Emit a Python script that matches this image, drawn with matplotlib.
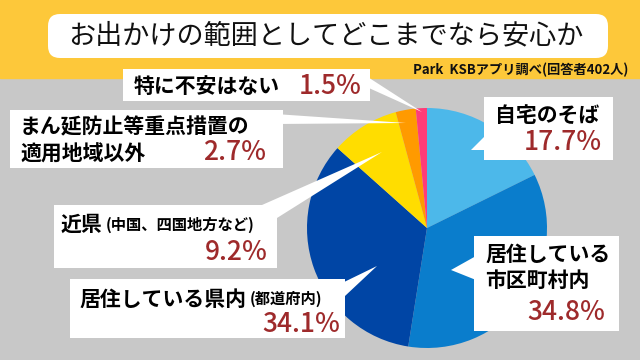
import matplotlib
matplotlib.use('Agg')
import matplotlib.pyplot as plt
from matplotlib.patches import Rectangle, Polygon, FancyBboxPatch

plt.rcParams['font.family'] = ['Noto Sans CJK JP', 'DejaVu Sans']

# ---------------------------
# data
# ---------------------------
title = "お出かけの範囲としてどこまでなら安心か"
source = "Park  KSBアプリ調べ(回答者402人)"
labels = ["自宅のそば", "居住している市区町村内", "居住している県内(都道府内)",
          "近県(中国、四国地方など)", "まん延防止等重点措置の適用地域以外", "特に不安はない"]
values = [17.7, 34.8, 34.1, 9.2, 2.7, 1.5]
colors = ['#4cb8ea', '#0a7dcc', '#0045a5', '#ffdd00', '#ff9a00', '#ff3c78']

RED = '#9e2a2b'
YEL = '#fdc83a'
GRAY = '#c8c8c8'
BIG = 15
SMALL = 11
PCT = 19

W, H = 640, 360

def Y(y):
    # picture y (top down) -> axes y
    return H - y

fig = plt.figure(figsize=(6.4, 3.6), dpi=100)
ax = fig.add_axes([0, 0, 1, 1])
ax.set_xlim(0, W)
ax.set_ylim(0, H)

# background
ax.add_patch(Rectangle((0, 0), W, H, color=GRAY, zorder=0))
ax.add_patch(Rectangle((0, Y(78)), W, 78, color=YEL, zorder=0))

# title box
ax.add_patch(FancyBboxPatch((48, Y(58)), 560, 44, boxstyle="round,pad=0,rounding_size=12",
                            fc='white', ec='none', zorder=1))
ax.text(326, Y(36), title, fontsize=19.5, ha='center', va='center', color='#111111', zorder=2)
ax.text(628, Y(70), source, fontsize=9.5, fontweight='bold', ha='right', va='center',
        color='#111111', zorder=2)

# pie
cx, cy, r = 427, Y(228), 120
ax.pie(values, colors=colors, startangle=90, counterclock=False, center=(cx, cy), radius=r,
       wedgeprops=dict(linewidth=0), frame=True)

def callout(x0, y0, x1, y1, base, tip):
    ax.add_patch(Rectangle((x0, Y(y1)), x1 - x0, y1 - y0, fc='white', ec='none', zorder=5))
    pts = [(bx, Y(by)) for bx, by in base] + [(tip[0], Y(tip[1]))]
    ax.add_patch(Polygon(pts, closed=True, fc='white', ec='none', zorder=5))

def label(x, y, s):
    return ax.text(x, Y(y), s, fontsize=BIG, fontweight='bold', va='center', zorder=6)

def pct(x, y, s):
    ax.text(x, Y(y), s, fontsize=PCT, fontweight='medium', color=RED, ha='right',
            va='center', zorder=6)

def small_after(t, y, s):
    fig.canvas.draw()
    bb = t.get_window_extent()
    ax.text(bb.x1 + 3, Y(y), s, fontsize=SMALL, fontweight='bold', va='center', zorder=6)

# 特に不安はない
callout(123, 69, 370, 101, [(360, 72), (360, 84)], (422, 112))
label(134, 86, "特に不安はない")
pct(362, 86, "1.5%")

# まん延防止等重点措置の
callout(10, 110, 283, 168, [(275, 114), (275, 124)], (406, 123))
label(20, 127, "まん延防止等重点措置の")
label(20, 154, "適用地域以外")
pct(266, 153, "2.7%")

# 近県
callout(54, 205, 277, 268, [(262, 205), (277, 218)], (382, 152))
t = label(61, 224, "近県")
small_after(t, 225, "(中国、四国地方など)")
pct(268, 252, "9.2%")

# 県内
callout(70, 279, 345, 338, [(340, 284), (345, 296)], (377, 266))
t = label(80, 299, "居住している県内")
small_after(t, 299, "(都道府内)")
pct(340, 324, "34.1%")

# 自宅のそば
callout(484, 97, 613, 160, [(486, 135), (486, 150)], (471, 150))
label(495, 115, "自宅のそば")
pct(602, 143, "17.7%")

# 市区町村内
callout(474, 236, 619, 331, [(476, 256), (476, 280)], (451, 270))
label(485, 254, "居住している")
label(485, 280, "市区町村内")
pct(605, 313, "34.8%")

ax.set_xlim(0, W)
ax.set_ylim(0, H)
ax.set_aspect('auto')
ax.axis('off')

fig.savefig('out.png', dpi=100)
